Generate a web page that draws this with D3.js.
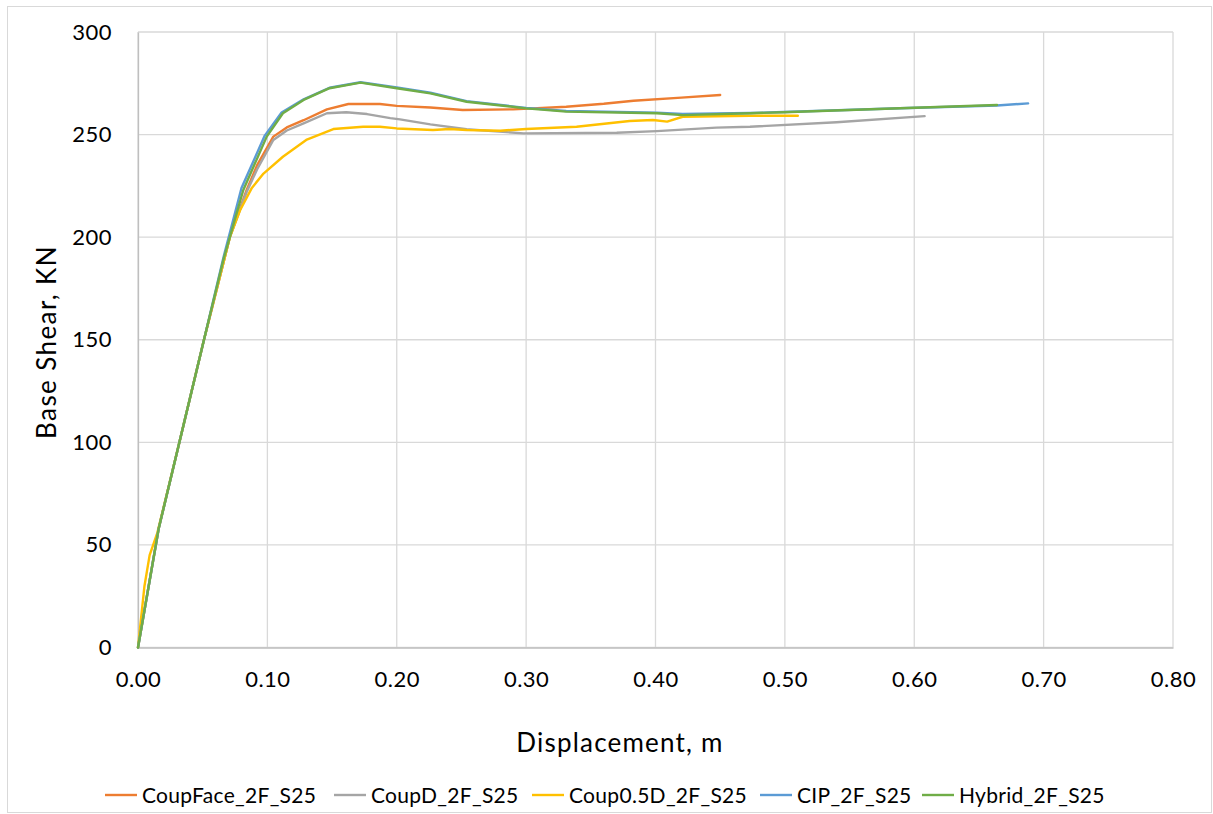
<!DOCTYPE html>
<html>
<head>
<meta charset="utf-8">
<script src="https://cdn.jsdelivr.net/npm/d3@7"></script>
<style>
  html, body { margin: 0; padding: 0; background: #fff; }
  svg { display: block; font-family: Lato, "Open Sans", sans-serif; }
</style>
</head>
<body>
<svg id="chart" width="1213" height="814"></svg>
<script>
// Pushover curves: displacement (m) vs base shear (KN)
const seriesNames = ["CoupFace_2F_S25", "CoupD_2F_S25", "Coup0.5D_2F_S25", "CIP_2F_S25", "Hybrid_2F_S25"];
const seriesColors = ["#ED7D31", "#A5A5A5", "#FFC000", "#5B9BD5", "#70AD47"];

const coupFace = [[0,0],[0.016,58],[0.032,100],[0.051,150],[0.071,200],[0.084,223],[0.092,235],[0.1046,249],[0.115,253.5],[0.128,257],[0.146,262.3],[0.1626,264.9],[0.187,264.9],[0.200,264],[0.226,263.2],[0.251,262],[0.290,262.3],[0.331,263.6],[0.36,265],[0.383,266.5],[0.42,268],[0.450,269.3]];
const coupD = [[0,0],[0.016,58],[0.032,100],[0.051,150],[0.071,200],[0.084,222],[0.092,233],[0.1046,247.4],[0.115,252],[0.128,255.5],[0.146,260.4],[0.161,260.9],[0.177,260],[0.195,258],[0.2025,257.4],[0.226,255],[0.254,252.6],[0.298,250.6],[0.370,250.9],[0.401,251.7],[0.447,253.4],[0.473,253.8],[0.54,256],[0.608,259]];
const coupHalfD = [[0,0],[0.005,30],[0.009,45],[0.015,56],[0.032,100],[0.051,150],[0.071,200],[0.0788,213],[0.088,224],[0.097,231],[0.112,239.2],[0.130,247.4],[0.151,252.7],[0.174,253.8],[0.187,253.8],[0.200,253],[0.228,252.2],[0.241,252.7],[0.254,252.2],[0.280,251.9],[0.300,252.7],[0.339,253.8],[0.380,256.6],[0.398,257.1],[0.409,256.3],[0.421,258.7],[0.473,259.2],[0.510,259.2]];
const cip = [[0,0],[0.016,58],[0.032,100],[0.051,150],[0.066,190],[0.080,224],[0.098,249.5],[0.111,260.8],[0.128,267.2],[0.148,272.8],[0.172,275.5],[0.200,273],[0.226,270.4],[0.254,266.3],[0.300,263],[0.331,261.5],[0.401,260.7],[0.421,260],[0.473,260.5],[0.499,261],[0.589,262.8],[0.664,264.2],[0.688,265.2]];
const hybrid = [[0,0],[0.016,58],[0.032,100],[0.051,150],[0.066,189],[0.0814,223],[0.0995,249],[0.112,260.4],[0.128,266.9],[0.148,272.6],[0.172,275.3],[0.200,272.6],[0.226,270.1],[0.254,266],[0.300,262.8],[0.331,261.2],[0.401,260.4],[0.421,259.5],[0.473,260.4],[0.499,260.9],[0.589,262.8],[0.664,264.4]];
const seriesData = [coupFace, coupD, coupHalfD, cip, hybrid];

const xTicks = [0, 0.1, 0.2, 0.3, 0.4, 0.5, 0.6, 0.7, 0.8];
const yTicks = [0, 50, 100, 150, 200, 250, 300];

const svg = d3.select("#chart");
const W = 1213, H = 814;
const plot = { left: 138, right: 1173, top: 32, bottom: 647.5 };

// outer chart frame
svg.append("rect")
  .attr("x", 7.5).attr("y", 6.5).attr("width", W - 9).attr("height", H - 8)
  .attr("fill", "#fff").attr("stroke", "#d9d9d9").attr("stroke-width", 1);

const x = d3.scaleLinear().domain([0, 0.8]).range([plot.left, plot.right]);
const y = d3.scaleLinear().domain([0, 300]).range([plot.bottom, plot.top]);

// gridlines
const grid = svg.append("g");
grid.selectAll("line.h").data(yTicks).join("line")
  .attr("x1", plot.left).attr("x2", plot.right)
  .attr("y1", d => y(d)).attr("y2", d => y(d))
  .attr("stroke", "#d9d9d9").attr("stroke-width", 1.3);
grid.selectAll("line.v").data(xTicks).join("line")
  .attr("y1", plot.top).attr("y2", plot.bottom)
  .attr("x1", d => x(d)).attr("x2", d => x(d))
  .attr("stroke", "#d9d9d9").attr("stroke-width", 1.3);

// axes
const xAxis = svg.append("g")
  .attr("transform", `translate(0,${plot.bottom})`)
  .call(d3.axisBottom(x).tickValues(xTicks).tickFormat(d3.format(".2f")).tickSize(0).tickPadding(24));
const yAxis = svg.append("g")
  .attr("transform", `translate(${plot.left},0)`)
  .call(d3.axisLeft(y).tickValues(yTicks).tickFormat(d3.format("d")).tickSize(0).tickPadding(26));
[xAxis, yAxis].forEach(a => {
  a.select(".domain").attr("stroke", "#bfbfbf").attr("stroke-width", 1.3);
  a.selectAll("text").attr("font-size", 22).attr("letter-spacing", 0.5).attr("fill", "#000")
    .attr("font-family", "Lato, 'Open Sans', sans-serif");
});

// series lines
const line = d3.line().x(d => x(d[0])).y(d => y(d[1]));
svg.append("g").selectAll("path").data(seriesData).join("path")
  .attr("d", line)
  .attr("fill", "none")
  .attr("stroke", (d, i) => seriesColors[i])
  .attr("stroke-width", 2.4)
  .attr("stroke-linejoin", "round")
  .attr("stroke-linecap", "round");

// axis titles
svg.append("text")
  .attr("x", 620).attr("y", 752)
  .attr("text-anchor", "middle").attr("font-size", 26).attr("letter-spacing", 1.2)
  .text("Displacement, m");
svg.append("text")
  .attr("transform", `translate(56,342) rotate(-90)`)
  .attr("text-anchor", "middle").attr("font-size", 26).attr("letter-spacing", 1.4)
  .text("Base Shear, KN");

// legend
const legendX = [105, 334, 532, 760, 922];
const legend = svg.append("g");
seriesNames.forEach((name, i) => {
  const g = legend.append("g").attr("transform", `translate(${legendX[i]},795)`);
  g.append("line").attr("x1", 0).attr("x2", 32).attr("y1", 0).attr("y2", 0)
    .attr("stroke", seriesColors[i]).attr("stroke-width", 2.4);
  g.append("text").attr("x", 37).attr("y", 7.5).attr("font-size", 21).attr("letter-spacing", 0.3)
    .attr("fill", "#000").text(name);
});
</script>
</body>
</html>
